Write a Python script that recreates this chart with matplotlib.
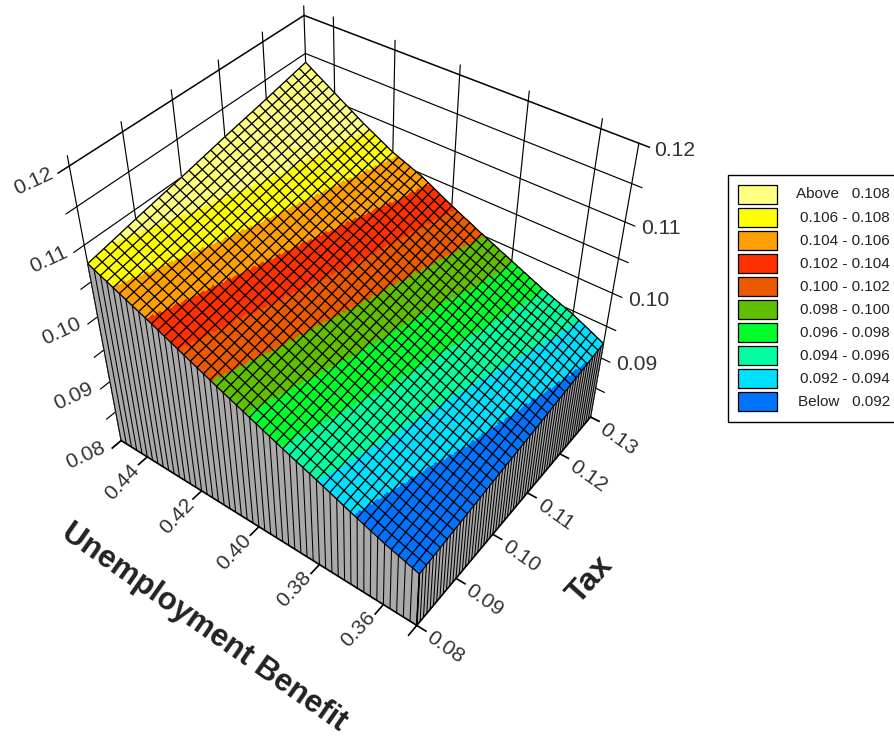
import numpy as np
import matplotlib
matplotlib.use("Agg")
import matplotlib.pyplot as plt
from matplotlib.colors import ListedColormap, BoundaryNorm
from matplotlib.patches import Rectangle
from mpl_toolkits.mplot3d import proj3d

plt.rcParams["font.family"] = ["Liberation Sans", "DejaVu Sans"]

# values at the tick crossings
tax_values = [0.08, 0.09, 0.10, 0.11, 0.12, 0.13]
benefit_values = [0.35, 0.36, 0.37, 0.38, 0.39, 0.40, 0.41, 0.42, 0.43, 0.44, 0.45]
surface_rows = [
    [0.0889, 0.0904, 0.0922, 0.0941, 0.0959, 0.0978, 0.0997, 0.1017, 0.1037, 0.1056, 0.1075],
    [0.0896, 0.0912, 0.0930, 0.0949, 0.0968, 0.0987, 0.1007, 0.1026, 0.1047, 0.1067, 0.1088],
    [0.0903, 0.0921, 0.0938, 0.0958, 0.0977, 0.0996, 0.1016, 0.1036, 0.1057, 0.1078, 0.1100],
    [0.0909, 0.0928, 0.0946, 0.0965, 0.0984, 0.1005, 0.1027, 0.1045, 0.1067, 0.1090, 0.1113],
    [0.0916, 0.0937, 0.0954, 0.0974, 0.0993, 0.1014, 0.1036, 0.1054, 0.1076, 0.1101, 0.1125],
    [0.0923, 0.0945, 0.0962, 0.0982, 0.1002, 0.1023, 0.1046, 0.1063, 0.1086, 0.1112, 0.1138],
]
level_edges = [0.092, 0.094, 0.096, 0.098, 0.100, 0.102, 0.104, 0.106, 0.108]
band_colors = ["#0073FF", "#00E1FF", "#00FFA0", "#00FF2A", "#60BF00",
               "#EB5A00", "#FF3000", "#FFA000", "#FFFF00", "#FFFF80"]
legend_labels = ["Above   0.108", "0.106 - 0.108", "0.104 - 0.106", "0.102 - 0.104", "0.100 - 0.102",
                 "0.098 - 0.100", "0.096 - 0.098", "0.094 - 0.096", "0.092 - 0.094", "Below   0.092"]
z_ticks = [0.08, 0.085, 0.09, 0.095, 0.10, 0.105, 0.11, 0.115, 0.12]
z_labels = [0.08, 0.09, 0.10, 0.11, 0.12]
tax_ticks = [0.08, 0.09, 0.10, 0.11, 0.12, 0.13]
benefit_ticks = [0.36, 0.38, 0.40, 0.42, 0.44]

N_BENEFIT = 50
N_TAX = 30
N_TAX_WALL = 60
SUB = 3
TEXT = "#333333"


def surface_on(tax, benefit):
    # the mesh is much finer than what could be read by eye, so the read
    # table above is resampled linearly onto the mesh nodes
    rows = np.array([np.interp(benefit, benefit_values, r) for r in surface_rows])
    return np.array([np.interp(tax, tax_values, rows[:, j]) for j in range(rows.shape[1])]).T


W, H = 894, 738
fig = plt.figure(figsize=(W / 100, H / 100), dpi=100)
side = 613.7
ax = fig.add_axes([42.38 / W, 118.05 / H, side / W, side / H], projection="3d", computed_zorder=False)
ax.set_xlim(0.08, 0.13)
ax.set_ylim(0.35, 0.45)
ax.set_zlim(0.08, 0.12)
ax.margins(0)
ax.view_init(elev=42.006, azim=-143.01, roll=0.171)
ax.set_proj_type("persp", focal_length=0.3824)
ax.set_box_aspect((0.9184, 1.0706, 1.0))
ax.set_axis_off()
ax.patch.set_alpha(0)

t_min, t_max = tax_values[0], tax_values[-1]
b_min, b_max = benefit_values[0], benefit_values[-1]
z_min, z_max = z_ticks[0], z_ticks[-1]

# back walls
GRID = dict(color="black", lw=0.85, zorder=1)
EDGE = dict(color="black", lw=1.1, zorder=1)
for z in z_ticks:
    ax.plot([t_min - 0.002, t_min, t_max], [b_max, b_max, b_max], [z, z, z], **(EDGE if z == z_max else GRID))
    ax.plot([t_max, t_max], [b_max, b_min - 0.0027], [z, z], **(EDGE if z == z_max else GRID))
for t in tax_ticks:
    ax.plot([t, t], [b_max, b_max], [z_min, z_max + 0.0012], **GRID)
for b in benefit_ticks:
    ax.plot([t_max, t_max], [b, b], [z_min, z_max + 0.0012], **GRID)
ax.plot([t_max, t_max], [b_min, b_min], [z_min, z_max], **GRID)

# surface, cut into the colour bands on a finer grid than the mesh
tf = np.linspace(t_min, t_max, N_TAX * SUB * 2 + 1)
bf = np.linspace(b_min, b_max, N_BENEFIT * SUB + 1)
Tf, Bf = np.meshgrid(tf, bf, indexing="ij")
Zf = surface_on(tf, bf)
cmap = ListedColormap(band_colors)
norm = BoundaryNorm([0.0] + level_edges + [1.0], cmap.N)
centres = (Zf[:-1, :-1] + Zf[1:, 1:] + Zf[1:, :-1] + Zf[:-1, 1:]) / 4
ax.plot_surface(Tf, Bf, Zf, facecolors=cmap(norm(centres)), rstride=1, cstride=1,
                shade=False, linewidth=0, antialiased=False, zorder=2)

# side walls
tm = np.linspace(t_min, t_max, N_TAX + 1)
tw = np.linspace(t_min, t_max, N_TAX_WALL + 1)
bm = np.linspace(b_min, b_max, N_BENEFIT + 1)
Zm = surface_on(tm, bm)
Zw = surface_on(tw, bm)
WALL = "#A9A9A9"
ax.plot_surface(np.array([[t_min] * bm.size] * 2), np.array([bm, bm]), np.array([np.full(bm.size, z_min), Zm[0]]),
                color=WALL, shade=False, linewidth=0, antialiased=False, zorder=2)
ax.plot_surface(np.array([tw, tw]), np.array([[b_min] * tw.size] * 2), np.array([np.full(tw.size, z_min), Zw[:, 0]]),
                color=WALL, shade=False, linewidth=0, antialiased=False, zorder=2)

# mesh on the surface and down the walls
MESH = dict(color="black", lw=0.95, zorder=3, solid_capstyle="butt")
WALL_LINE = dict(color="black", lw=0.75, zorder=3, solid_capstyle="butt")
for i, t in enumerate(tm):
    ax.plot(np.full(bm.size, t), bm, Zm[i], **MESH)
for i, t in enumerate(tw):
    ax.plot([t, t], [b_min, b_min], [z_min, Zw[i, 0]], **WALL_LINE)
for j, b in enumerate(bm):
    ax.plot(tm, np.full(tm.size, b), Zm[:, j], **MESH)
    ax.plot([t_min, t_min], [b, b], [z_min, Zm[0, j]], **WALL_LINE)

# base edges and their ticks
AXIS = dict(color="black", lw=1.2, zorder=4)
ax.plot([t_min, t_min], [b_max, b_min], [z_min, z_min], **AXIS)
ax.plot([t_min, t_max], [b_min, b_min], [z_min, z_min], **AXIS)
ax.plot([t_min, t_min], [b_min, b_min], [z_min, Zm[0, 0]], **AXIS)
for b in [b_max] + benefit_ticks + [b_min]:
    ax.plot([t_min, t_min - 0.002], [b, b], [z_min, z_min], **AXIS)
for t in tax_ticks:
    ax.plot([t, t], [b_min, b_min - 0.0027], [z_min, z_min], **AXIS)

# the walls reach past the square 3d axes box
for artist in list(ax.lines) + list(ax.collections):
    artist.set_clip_on(False)

M = ax.get_proj()


def label(x, y, z, text, dx, dy, rot, size=15.2, weight="normal", color=TEXT):
    u, v, _ = proj3d.proj_transform(x, y, z, M)
    ax.annotate(text, (u, v), xytext=(dx, dy), textcoords="offset pixels", rotation=rot,
                rotation_mode="anchor", ha="center", va="center", fontsize=size,
                fontweight=weight, color=color, zorder=5, annotation_clip=False)


for b in benefit_ticks:
    label(t_min, b, z_min, f"{b:.2f}", -25, -25, 47)
for t in tax_ticks:
    label(t, b_min, z_min, f"{t:.2f}", 28, -22, -35)
for z in z_labels:
    label(t_min, b_max, z, f"{z:.2f}", -36, -15, 25)
for z in z_labels[1:]:
    label(t_max, b_min, z, f"{z:.2f}", 36, -7, 0)
label(t_min, 0.40, z_min, "Unemployment Benefit", -55, -101, -35, size=22.5, weight="bold", color="#222222")
label(0.105, b_min, z_min, "Tax", 80, -67, 48, size=23, weight="bold", color="#222222")

# legend, laid out in pixels of the figure
leg = fig.add_axes([0, 0, 1, 1], zorder=10)
leg.set_xlim(0, W)
leg.set_ylim(H, 0)
leg.axis("off")
leg.patch.set_alpha(0)
leg.add_patch(Rectangle((727.5, 174.5), 180, 247, fc="white", ec="black", lw=1.0))
for i, (txt, col) in enumerate(zip(legend_labels, band_colors[::-1])):
    y = 184.5 + i * 23.1
    leg.add_patch(Rectangle((738.5, y + 1), 39, 19, fc="#8C8C8C", ec="none"))
    leg.add_patch(Rectangle((737.5, y), 39, 19, fc=col, ec="black", lw=0.9))
    leg.text(890, y + 10, txt, ha="right", va="center", fontsize=11, color="#222222")

fig.savefig("out.png", dpi=100)
